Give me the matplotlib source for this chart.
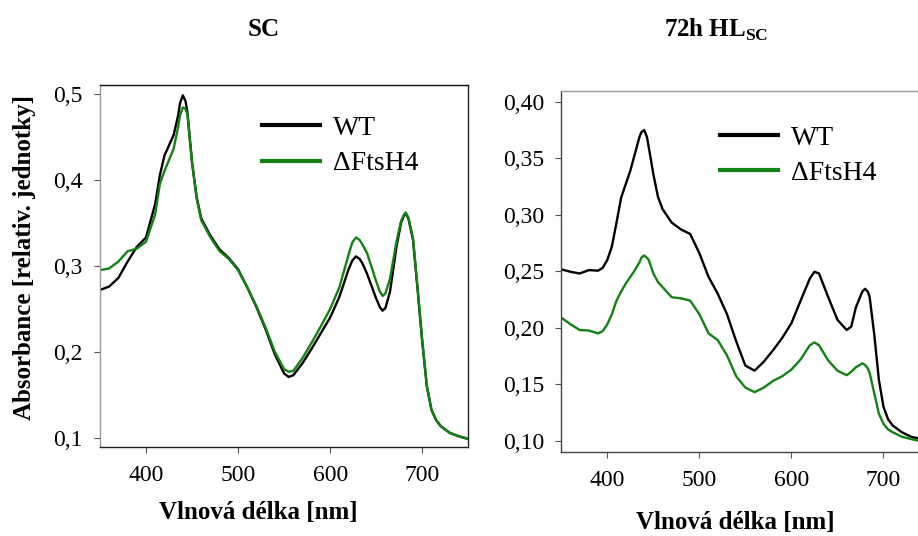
import matplotlib
matplotlib.use("Agg")
import matplotlib.pyplot as plt
from matplotlib.ticker import FixedLocator, FuncFormatter

# ----------------------------------------------------------------------
# data
# ----------------------------------------------------------------------
wl_sc = [350, 360, 370, 380, 390, 400, 410, 415, 420, 425,
         430, 435, 437, 440, 443, 445, 450, 455, 460, 470,
         480, 490, 500, 510, 520, 530, 540, 550, 555, 560,
         570, 580, 590, 600, 610, 620, 624, 628, 632, 635,
         640, 650, 654, 657, 660, 665, 672, 677, 680, 682,
         685, 690, 695, 700, 705, 710, 715, 720, 730, 740,
         750]
wt_sc = [.272, .276, .286, .305, .322, .333, .372, .405, .428, .440,
         .452, .475, .489, .498, .491, .478, .420, .380, .355, .335,
         .319, .309, .296, .275, .252, .226, .197, .175, .171, .173,
         .187, .204, .222, .240, .264, .296, .306, .311, .308, .303,
         .291, .262, .252, .248, .251, .270, .322, .350, .358, .361,
         .355, .330, .272, .212, .160, .133, .121, .114, .106, .102,
         .099]
ko_sc = [.295, .297, .305, .317, .320, .328, .360, .395, .410, .423,
         .436, .462, .475, .484, .482, .476, .420, .378, .353, .333,
         .317, .308, .295, .275, .253, .228, .200, .180, .177, .178,
         .193, .211, .230, .250, .275, .313, .327, .333, .330, .325,
         .315, .282, .270, .265, .268, .285, .328, .352, .359, .362,
         .356, .332, .274, .213, .161, .133, .121, .114, .106, .102,
         .099]

wl_hl = [350, 360, 370, 380, 390, 395, 400, 405, 410, 415,
         420, 425, 430, 435, 437, 440, 443, 445, 450, 455,
         460, 470, 480, 490, 500, 510, 520, 530, 540, 550,
         560, 570, 580, 590, 600, 610, 620, 625, 630, 640,
         650, 660, 665, 670, 677, 680, 683, 685, 690, 695,
         700, 705, 710, 720, 730, 738]
wt_hl = [.2517, .2495, .248, .251, .2505, .253, .260, .272, .293, .315,
         .327, .339, .354, .369, .373, .375, .369, .360, .336, .316,
         .305, .293, .287, .283, .266, .245, .230, .212, .188, .1665,
         .162, .170, .180, .191, .204, .224, .2435, .2495, .248, .227,
         .207, .198, .201, .218, .232, .2345, .232, .227, .194, .154,
         .130, .119, .1135, .1075, .1035, .102]
ko_hl = [.209, .203, .198, .1975, .195, .197, .203, .212, .224, .232,
         .239, .245, .251, .258, .262, .264, .262, .260, .248, .2405,
         .236, .227, .226, .224, .212, .195, .189, .1755, .157, .147,
         .143, .147, .153, .157, .163, .172, .1845, .187, .1845, .171,
         .162, .158, .161, .165, .1685, .167, .164, .160, .142, .124,
         .115, .110, .1075, .1035, .1015, .100]

series_names = ['WT', '\u0394FtsH4']
xticks = [400, 500, 600, 700]
yticks_sc = [0.1, 0.2, 0.3, 0.4, 0.5]
yticks_hl = [0.10, 0.15, 0.20, 0.25, 0.30, 0.35, 0.40]

GREEN = '#128212'

plt.rcParams['font.family'] = ['Liberation Serif', 'DejaVu Serif']
plt.rcParams['mathtext.fontset'] = 'custom'
plt.rcParams['mathtext.rm'] = 'Liberation Serif'
plt.rcParams['mathtext.bf'] = 'Liberation Serif:bold'
plt.rcParams['lines.solid_joinstyle'] = 'round'

fig = plt.figure(figsize=(9.18, 5.36), dpi=100)
ax1 = fig.add_axes([0.1089, 0.1666, 0.4012, 0.6748])
ax2 = fig.add_axes([0.6114, 0.1573, 0.3886, 0.6729])


def style_axis(ax, yticks, ndec, spine_cols):
    ax.xaxis.set_major_locator(FixedLocator(xticks))
    ax.yaxis.set_major_locator(FixedLocator(yticks))
    ax.yaxis.set_major_formatter(
        FuncFormatter(lambda v, p: ('%.*f' % (ndec, v)).replace('.', ',')))
    ax.tick_params(axis='both', direction='out', length=4.5, width=0.8,
                   color='#555555', labelsize=17)
    ax.tick_params(axis='x', pad=9)
    ax.tick_params(axis='y', pad=8)
    for side, c in spine_cols.items():
        if c is None:
            ax.spines[side].set_visible(False)
        else:
            ax.spines[side].set_color(c)
            ax.spines[side].set_linewidth(1.0)


# --- left panel: SC
ax1.plot(wl_sc, wt_sc, color='black', lw=1.7, label=series_names[0])
ax1.plot(wl_sc, ko_sc, color=GREEN, lw=1.7, label=series_names[1])
ax1.set_xlim(350, 750)
ax1.set_ylim(0.09, 0.51)
style_axis(ax1, yticks_sc, 1,
           {'left': '#999999', 'top': '#111111', 'right': '#222222', 'bottom': '#222222'})
leg1 = ax1.legend(loc='upper left', bbox_to_anchor=(0.44, 0.915), frameon=False,
                  fontsize=20, handlelength=2.1, handletextpad=0.45,
                  labelspacing=0.35, borderpad=0, borderaxespad=0)
for h in leg1.get_lines():
    h.set_linewidth(3)

# --- right panel: 72h HL
ax2.plot(wl_hl, wt_hl, color='black', lw=1.7, label=series_names[0])
ax2.plot(wl_hl, ko_hl, color=GREEN, lw=1.7, label=series_names[1])
ax2.set_xlim(350, 737.5)
ax2.set_ylim(0.0903, 0.4095)
style_axis(ax2, yticks_hl, 2,
           {'left': '#444444', 'top': '#999999', 'right': None, 'bottom': '#444444'})
leg2 = ax2.legend(loc='upper left', bbox_to_anchor=(0.445, 0.905), frameon=False,
                  fontsize=20, handlelength=2.1, handletextpad=0.45,
                  labelspacing=0.35, borderpad=0, borderaxespad=0)
for h in leg2.get_lines():
    h.set_linewidth(3)

# --- titles and axis labels
W, H = 918.0, 536.0
fig.text(264 / W, 1 - 29 / H, 'SC', ha='center', va='center',
         fontsize=18, fontweight='bold')
fig.text(716 / W, 1 - 30 / H, r'72h HL$_{\mathbf{SC}}$', ha='center', va='center',
         fontsize=18, fontweight='bold')
fig.text(25 / W, 1 - 258 / H, 'Absorbance [relativ. jednotky]', rotation=90,
         ha='center', va='center', fontsize=18, fontweight='bold')
fig.text(258 / W, 1 - 512 / H, 'Vlnová délka [nm]', ha='center', va='center',
         fontsize=18, fontweight='bold')
fig.text(735 / W, 1 - 522 / H, 'Vlnová délka [nm]', ha='center', va='center',
         fontsize=18, fontweight='bold')

fig.savefig('out.png', dpi=100)
